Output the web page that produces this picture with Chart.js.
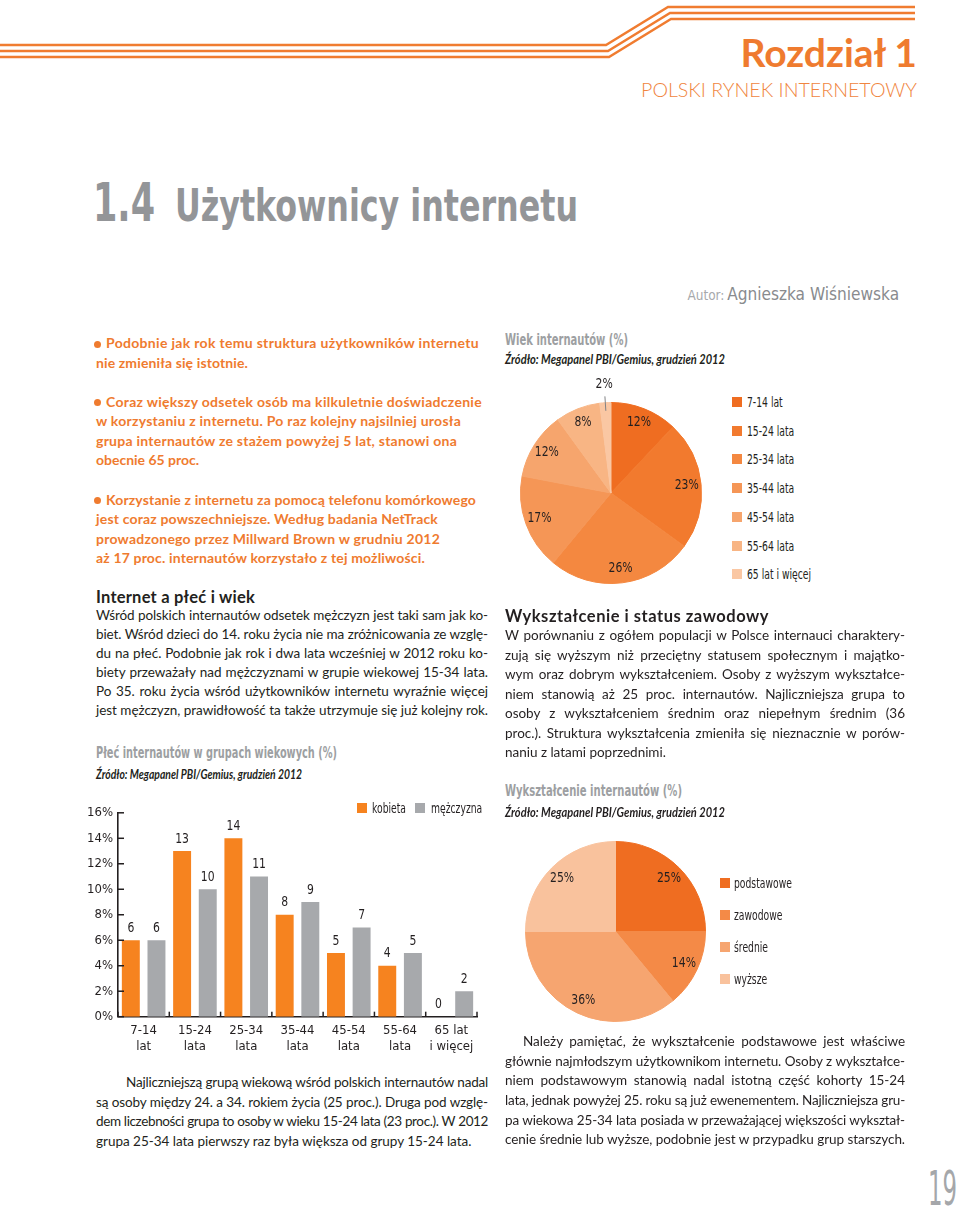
<!DOCTYPE html>
<html lang="pl">
<head>
<meta charset="utf-8">
<title>1.4 Użytkownicy internetu</title>
<script src="https://cdn.jsdelivr.net/npm/chart.js@4.4.1/dist/chart.umd.min.js"></script>
<style>
    html, body { margin: 0; padding: 0; background: #fff; }
    body { position: relative; width: 960px; height: 1217px; overflow: hidden;
           font-family: Lato, "Open Sans", sans-serif; color: #231f20; }
    .abs { position: absolute; white-space: nowrap; }
    .etroit { font-family: "DejaVu Sans Condensed", "DejaVu Sans", sans-serif; }
    .ligne { font-size: 13.5px; }
    .justifie { white-space: normal; text-align: justify; text-align-last: justify; }
    .puce-texte { font-weight: 700; font-size: 14px; color: #ef7b2f; }
    .puce { position: absolute; width: 7px; height: 7px; border-radius: 50%; background: #ef7b2f; }
    .titre-graph { font-family: "DejaVu Sans Condensed", "DejaVu Sans", sans-serif;
                   font-weight: 700; font-size: 15.5px; color: #9d9fa2; }
    .source { font-style: italic; font-weight: 700; font-size: 12.5px; }
    .intertitre { font-weight: 700; font-size: 16.5px; }
    .leg { font-family: "DejaVu Sans Condensed", "DejaVu Sans", sans-serif; font-size: 13.5px;
           transform: scaleX(0.76); transform-origin: left center; }
    .carre { position: absolute; width: 10px; height: 10px; }
    canvas { position: absolute; }
</style>
</head>
<body>

<svg class="abs" style="left:0;top:0" width="960" height="70">
    <g fill="none" stroke="#f07c30" stroke-width="2.4">
        <polyline points="0,45 606,45 668,7 915,7"/>
        <polyline points="0,51 608,51 670,13 915,13"/>
        <polyline points="0,57 609,57 671,19 915,19"/>
    </g>
</svg>

<canvas id="graphique-plec" width="420" height="260" style="left:70px;top:800px"></canvas>
<canvas id="graphique-wiek" width="222" height="242" style="left:500px;top:372px"></canvas>
<canvas id="graphique-wyksztalcenie" width="231" height="223" style="left:500px;top:820px"></canvas>

<script>
/* ─── Données ─────────────────────────────────────────────────── */
const GROUPES_WIEKU = [['7-14', 'lat'], ['15-24', 'lata'], ['25-34', 'lata'], ['35-44', 'lata'],
                       ['45-54', 'lata'], ['55-64', 'lata'], ['65 lat', 'i więcej']];
const SERIES_PLEC   = ['kobieta', 'mężczyzna'];
const KOBIETY       = [6, 13, 14, 8, 5, 4, 0];
const MEZCZYZNI     = [6, 10, 11, 9, 7, 5, 2];
const TICKS_Y       = [0, 2, 4, 6, 8, 10, 12, 14, 16];

const WIEK_LIBELLES = ['7-14 lat', '15-24 lata', '25-34 lata', '35-44 lata', '45-54 lata', '55-64 lata', '65 lat i więcej'];
const WIEK_PARTS    = [12, 23, 26, 17, 12, 8, 2];

const WYKSZT_LIBELLES = ['podstawowe', 'zawodowe', 'średnie', 'wyższe'];
const WYKSZT_PARTS    = [25, 14, 36, 25];

/* ─── Couleurs et polices ─────────────────────────────────────── */
const ORANGE = '#f6831f';
const GRIS   = '#a7a9ac';
const COULEURS_WIEK   = ['#ef6d21', '#f27a2e', '#f48840', '#f59656', '#f6a56d', '#f8b584', '#fac7a3'];
const COULEURS_WYKSZT = ['#ef6d21', '#f48a47', '#f6a570', '#f9c29d'];
const POLICE_ETROITE  = '"DejaVu Sans Condensed", "DejaVu Sans", sans-serif';
const NOIR = '#231f20';

/* texte de canevas un peu resserré (l'original est en police condensée) */
function texteSerre(ctx, texte, x, y) {
    ctx.save();
    ctx.translate(x, y);
    ctx.scale(0.86, 1);
    ctx.fillText(texte, 0, 0);
    ctx.restore();
}

/* ─── Plugins ─────────────────────────────────────────────────── */
const etiquettesBarres = {
    id: 'etiquettesBarres',
    afterDatasetsDraw(chart) {
        const ctx = chart.ctx;
        ctx.save();
        ctx.font = '14px ' + POLICE_ETROITE;
        ctx.fillStyle = NOIR;
        ctx.textAlign = 'center';
        ctx.textBaseline = 'middle';
        chart.data.datasets.forEach((ds, i) => {
            chart.getDatasetMeta(i).data.forEach((barre, j) => {
                texteSerre(ctx, String(ds.data[j]), barre.x, barre.y - 12);
            });
        });
        ctx.restore();
    },
};

/* petits traits tournés vers l'intérieur, comme sur l'original */
const traitsInterieurs = {
    id: 'traitsInterieurs',
    afterDraw(chart) {
        const { ctx, chartArea, scales } = chart;
        ctx.save();
        ctx.strokeStyle = NOIR;
        ctx.lineWidth = 1.5;
        scales.y.ticks.forEach((t, i) => {
            const y = scales.y.getPixelForTick(i);
            ctx.beginPath();
            ctx.moveTo(chartArea.left, y);
            ctx.lineTo(chartArea.left + 6, y);
            ctx.stroke();
        });
        for (let i = 0; i <= scales.x.ticks.length; i++) {
            const x = scales.x.getPixelForValue(i - 0.5);
            ctx.beginPath();
            ctx.moveTo(x, chartArea.bottom);
            ctx.lineTo(x, chartArea.bottom - 5);
            ctx.stroke();
        }
        ctx.restore();
    },
};

const etiquettesSecteurs = {
    id: 'etiquettesSecteurs',
    afterDatasetsDraw(chart) {
        const ctx = chart.ctx;
        const valeurs = chart.data.datasets[0].data;
        ctx.save();
        ctx.font = '14px ' + POLICE_ETROITE;
        ctx.fillStyle = NOIR;
        ctx.strokeStyle = '#808285';
        ctx.lineWidth = 1;
        ctx.textAlign = 'center';
        ctx.textBaseline = 'middle';
        chart.getDatasetMeta(0).data.forEach((arc, i) => {
            const p = arc.getProps(['x', 'y', 'startAngle', 'endAngle', 'outerRadius'], true);
            const a = (p.startAngle + p.endAngle) / 2;
            const cos = Math.cos(a), sin = Math.sin(a);
            const texte = valeurs[i] + '%';
            if (valeurs[i] < 5) {
                // secteur trop étroit : étiquette dehors avec un trait
                const r1 = p.outerRadius * 0.91, r2 = p.outerRadius * 1.07, r3 = p.outerRadius * 1.2;
                ctx.beginPath();
                ctx.moveTo(p.x + cos * r1, p.y + sin * r1);
                ctx.lineTo(p.x + cos * r2, p.y + sin * r2);
                ctx.stroke();
                texteSerre(ctx, texte, p.x + cos * r3, p.y + sin * r3);
            } else {
                const r = p.outerRadius * 0.84;
                texteSerre(ctx, texte, p.x + cos * r, p.y + sin * r);
            }
        });
        ctx.restore();
    },
};

/* ─── Graphiques ──────────────────────────────────────────────── */
const policeAxe = { family: POLICE_ETROITE, size: 13 };

new Chart(document.getElementById('graphique-plec'), {
    type: 'bar',
    data: {
        labels: GROUPES_WIEKU,
        datasets: [
            { label: SERIES_PLEC[0], data: KOBIETY,   backgroundColor: ORANGE },
            { label: SERIES_PLEC[1], data: MEZCZYZNI, backgroundColor: GRIS },
        ],
    },
    options: {
        responsive: false,
        animation: false,
        events: [],
        layout: { padding: { top: 12, right: 13, left: 0, bottom: 0 } },
        datasets: { bar: { categoryPercentage: 1, barPercentage: 0.7 } },
        plugins: { legend: { display: false }, tooltip: { enabled: false } },
        scales: {
            x: {
                grid: { display: false, drawTicks: false },
                border: { display: true, color: NOIR, width: 1.6 },
                ticks: { padding: 5, color: NOIR, autoSkip: false, maxRotation: 0,
                         font: { ...policeAxe, lineHeight: 1.3 } },
                afterFit: s => { s.height = 43.3; },
            },
            y: {
                min: TICKS_Y[0],
                max: TICKS_Y[TICKS_Y.length - 1],
                afterBuildTicks: s => { s.ticks = TICKS_Y.map(v => ({ value: v })); },
                grid: { display: false, drawTicks: false },
                border: { display: true, color: NOIR, width: 1.6 },
                ticks: { padding: 5, color: NOIR, font: policeAxe, callback: v => v + '%' },
                afterFit: s => { s.width = 48; },
            },
        },
    },
    plugins: [traitsInterieurs, etiquettesBarres],
});

function camembert(id, libelles, valeurs, couleurs, padding) {
    return new Chart(document.getElementById(id), {
        type: 'pie',
        data: {
            labels: libelles,
            datasets: [{ data: valeurs, backgroundColor: couleurs, borderColor: couleurs,
                         borderWidth: 1, hoverOffset: 0 }],
        },
        options: {
            responsive: false,
            animation: false,
            events: [],
            layout: { padding },
            plugins: { legend: { display: false }, tooltip: { enabled: false } },
        },
        plugins: [etiquettesSecteurs],
    });
}

camembert('graphique-wiek', WIEK_LIBELLES, WIEK_PARTS, COULEURS_WIEK,
          { left: 20, right: 20, top: 30, bottom: 30 });
camembert('graphique-wyksztalcenie', WYKSZT_LIBELLES, WYKSZT_PARTS, COULEURS_WYKSZT,
          { left: 25, right: 25, top: 21, bottom: 21 });

/* ─── Texte ───────────────────────────────────────────────────── */
function poser(contenu, x, yCentre, classes, opts = {}) {
    const d = document.createElement('div');
    const h = opts.h || 20;
    d.className = 'abs ' + classes;
    d.style.top = (yCentre - h / 2) + 'px';
    d.style.height = h + 'px';
    d.style.lineHeight = h + 'px';
    if (opts.droite) {
        d.style.right = (960 - opts.droite) + 'px';
        d.style.transformOrigin = 'right center';
    } else {
        d.style.left = x + 'px';
    }
    if (opts.style) Object.assign(d.style, opts.style);
    if (opts.largeur) d.style.width = opts.largeur + 'px';
    if (opts.retrait) d.style.textIndent = opts.retrait + 'px';
    if (opts.cible) d.dataset.cible = opts.cible;
    if (opts.mode) d.dataset.mode = opts.mode;
    const s = document.createElement('span');
    s.textContent = contenu;
    d.appendChild(s);
    document.body.appendChild(d);
    return d;
}

function paragraphe(lignes, x, y0, largeur, pas, opts = {}) {
    lignes.forEach((t, i) => {
        const retrait = i === 0 ? (opts.retrait || 0) : 0;
        const derniere = i === lignes.length - 1 && !opts.pleine;
        poser(t, x, y0 + i * pas, 'ligne', {
            h: pas, largeur, retrait, cible: largeur - retrait,
            mode: derniere ? 'compresse' : 'justifie',
        });
    });
}

function puces(blocs, x, xTexte, pas) {
    blocs.forEach(b => {
        const dot = document.createElement('span');
        dot.className = 'puce';
        dot.style.left = (x - 2) + 'px';
        dot.style.top = (b.y - 2.5) + 'px';
        document.body.appendChild(dot);
        b.lignes.forEach((t, i) => {
            const x0 = i === 0 ? xTexte : x;
            poser(t, x0, b.y + i * pas, 'puce-texte', { h: pas, cible: b.fins[i] - x0, mode: 'ajuste' });
        });
    });
}

function legende(libelles, couleurs, xCarres, xTextes, ys) {
    libelles.forEach((lib, i) => {
        const c = document.createElement('div');
        c.className = 'carre';
        c.style.left = xCarres[i] + 'px';
        c.style.top = (ys[i] - 5) + 'px';
        c.style.background = couleurs[i];
        document.body.appendChild(c);
        poser(lib, xTextes[i], ys[i], 'leg', { h: 18 });
    });
}

function ajuster() {
    document.querySelectorAll('[data-cible]').forEach(d => {
        const s = d.firstChild;
        const naturel = s.getBoundingClientRect().width;
        const cible = parseFloat(d.dataset.cible);
        const mode = d.dataset.mode;
        if (mode === 'echelle') {
            d.style.transform = 'scaleX(' + (cible / naturel).toFixed(4) + ')';
            if (!d.style.transformOrigin) d.style.transformOrigin = 'left center';
            return;
        }
        let ls = (cible - naturel) / s.textContent.length;
        if (mode === 'ajuste') ls = Math.max(-1, Math.min(1, ls));
        else ls = Math.min(ls, 0) - 0.02;
        d.style.letterSpacing = ls.toFixed(3) + 'px';
        if (mode === 'justifie') d.classList.add('justifie');
    });
}

/* en-tête */
poser('Rozdział 1', 0, 52, '', { h: 46, droite: 917,
      style: { fontSize: '39px', fontWeight: 700, color: '#ef7b2f' } });
poser('POLSKI RYNEK INTERNETOWY', 0, 90, '', { h: 24, droite: 917, cible: 276, mode: 'echelle',
      style: { fontSize: '19.5px', fontWeight: 300, color: '#f08540' } });
poser('1.4', 93, 202.5, 'etroit', { h: 58, cible: 62, mode: 'echelle',
      style: { fontSize: '53.5px', fontWeight: 700, color: '#939598' } });
poser('Użytkownicy internetu', 175, 205.5, 'etroit', { h: 50, cible: 403, mode: 'echelle',
      style: { fontSize: '45px', fontWeight: 700, color: '#939598' } });
poser('Autor:', 0, 295, 'etroit', { h: 20, droite: 724, cible: 37, mode: 'echelle',
      style: { fontSize: '14px', color: '#a7a9ac' } });
poser('Agnieszka Wiśniewska', 0, 294, 'etroit', { h: 24, droite: 899, cible: 172, mode: 'echelle',
      style: { fontSize: '18.5px', color: '#898b8e' } });
/* numéro de page : remonté un peu pour que sa boîte reste dans la page */
poser('19', 0, 1188, 'etroit', { h: 56, droite: 957, cible: 29, mode: 'echelle',
      style: { fontSize: '48px', color: '#a5a7aa' } });

/* colonne gauche */
puces([
    { y: 343, lignes: ['Podobnie jak rok temu struktura użytkowników internetu',
                       'nie zmieniła się istotnie.'], fins: [479, 248] },
    { y: 401.5, lignes: ['Coraz większy odsetek osób ma kilkuletnie doświadczenie',
                         'w korzystaniu z internetu. Po raz kolejny najsilniej urosła',
                         'grupa internautów ze stażem powyżej 5 lat, stanowi ona',
                         'obecnie 65 proc.'], fins: [482, 461, 457, 199] },
    { y: 499.5, lignes: ['Korzystanie z internetu za pomocą telefonu komórkowego',
                         'jest coraz powszechniejsze. Według badania NetTrack',
                         'prowadzonego przez Millward Brown w grudniu 2012',
                         'aż 17 proc. internautów korzystało z tej możliwości.'], fins: [476, 438, 440, 425] },
], 96, 106, 19.5);

poser('Internet a płeć i wiek', 96, 597, 'intertitre', { h: 22, cible: 159, mode: 'ajuste' });
paragraphe([
    'Wśród polskich internautów odsetek mężczyzn jest taki sam jak ko-',
    'biet. Wśród dzieci do 14. roku życia nie ma zróżnicowania ze wzglę-',
    'du na płeć. Podobnie jak rok i dwa lata wcześniej w 2012 roku ko-',
    'biety przeważały nad mężczyznami w grupie wiekowej 15-34 lata.',
    'Po 35. roku życia wśród użytkowników internetu wyraźnie więcej',
    'jest mężczyzn, prawidłowość ta także utrzymuje się już kolejny rok.',
], 96, 615.5, 392, 19, { pleine: true });

poser('Płeć internautów w grupach wiekowych (%)', 96, 753, 'titre-graph', { cible: 241, mode: 'echelle' });
poser('Źródło: Megapanel PBI/Gemius, grudzień 2012', 96, 775, 'source', { cible: 206, mode: 'echelle' });

paragraphe([
    'Najliczniejszą grupą wiekową wśród polskich internautów nadal',
    'są osoby między 24. a 34. rokiem życia (25 proc.). Druga pod wzglę-',
    'dem liczebności grupa to osoby w wieku 15-24 lata (23 proc.). W 2012',
    'grupa 25-34 lata pierwszy raz była większa od grupy 15-24 lata.',
], 96, 1083, 392, 19.5, { retrait: 30 });

/* colonne droite */
poser('Wiek internautów (%)', 505, 340, 'titre-graph', { cible: 123, mode: 'echelle' });
poser('Źródło: Megapanel PBI/Gemius, grudzień 2012', 505, 360, 'source', { cible: 220, mode: 'echelle' });

poser('Wykształcenie i status zawodowy', 505, 616, 'intertitre', { h: 22, cible: 264, mode: 'ajuste' });
paragraphe([
    'W porównaniu z ogółem populacji w Polsce internauci charaktery-',
    'zują się wyższym niż przeciętny statusem społecznym i majątko-',
    'wym oraz dobrym wykształceniem. Osoby z wyższym wykształce-',
    'niem stanowią aż 25 proc. internautów. Najliczniejsza grupa to',
    'osoby z wykształceniem średnim oraz niepełnym średnim (36',
    'proc.). Struktura wykształcenia zmieniła się nieznacznie w porów-',
    'naniu z latami poprzednimi.',
], 505, 636, 400, 19.5);

poser('Wykształcenie internautów (%)', 505, 791, 'titre-graph', { cible: 177, mode: 'echelle' });
poser('Źródło: Megapanel PBI/Gemius, grudzień 2012', 505, 813, 'source', { cible: 220, mode: 'echelle' });

paragraphe([
    'Należy pamiętać, że wykształcenie podstawowe jest właściwe',
    'głównie najmłodszym użytkownikom internetu. Osoby z wykształce-',
    'niem podstawowym stanowią nadal istotną część kohorty 15-24',
    'lata, jednak powyżej 25. roku są już ewenementem. Najliczniejsza gru-',
    'pa wiekowa 25-34 lata posiada w przeważającej większości wykształ-',
    'cenie średnie lub wyższe, podobnie jest w przypadku grup starszych.',
], 505, 1042, 400, 19.6, { retrait: 18, pleine: true });

/* légendes */
legende(SERIES_PLEC, [ORANGE, GRIS], [357, 415], [372, 431], [807.5, 807.5]);
legende(WIEK_LIBELLES, COULEURS_WIEK, WIEK_LIBELLES.map(() => 732), WIEK_LIBELLES.map(() => 747),
        WIEK_LIBELLES.map((_, i) => 402 + i * 28.7));
legende(WYKSZT_LIBELLES, COULEURS_WYKSZT, WYKSZT_LIBELLES.map(() => 720), WYKSZT_LIBELLES.map(() => 734),
        WYKSZT_LIBELLES.map((_, i) => 883 + i * 32));

ajuster();
</script>
</body>
</html>
